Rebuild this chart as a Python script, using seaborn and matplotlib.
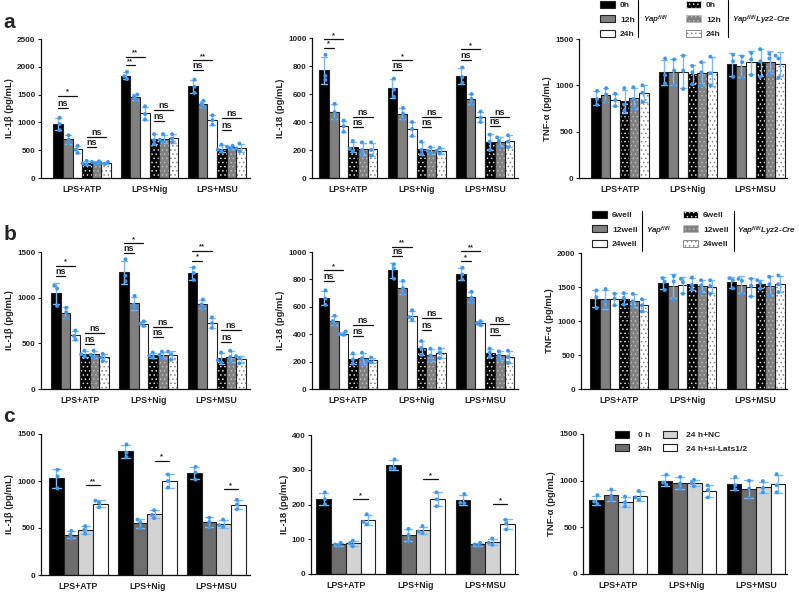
import numpy as np
import pandas as pd
import seaborn as sns
import matplotlib.pyplot as plt
from matplotlib.patches import Patch, Rectangle
from matplotlib.lines import Line2D

sns.set_theme(style='ticks')
plt.rcParams['font.family'] = ['Liberation Sans', 'DejaVu Sans']
plt.rcParams['font.weight'] = 'bold'
plt.rcParams['axes.labelweight'] = 'bold'
plt.rcParams['mathtext.fontset'] = 'custom'
plt.rcParams['mathtext.it'] = 'Liberation Sans:italic'
plt.rcParams['mathtext.rm'] = 'Liberation Sans'
plt.rcParams['hatch.linewidth'] = 0.6

# categories
stims = ['LPS+ATP', 'LPS+Nig', 'LPS+MSU']
time_groups = ['Yap 0h', 'Yap 12h', 'Yap 24h', 'Cre 0h', 'Cre 12h', 'Cre 24h']
well_groups = ['Yap 6well', 'Yap 12well', 'Yap 24well', 'Cre 6well', 'Cre 12well', 'Cre 24well']
time_labels = ['0h', '12h', '24h']
well_labels = ['6well', '12well', '24well']
si_groups = ['0 h', '24h', '24 h+NC', '24 h+si-Lats1/2']

# replicates, [stim][group] -> 3 values (pg/mL)
a_il1b = [
    [[1085, 970, 860], [770, 690, 620], [580, 510, 450], [310, 260, 240], [300, 290, 260], [290, 270, 250]],
    [[1910, 1830, 1780], [1500, 1460, 1400], [1290, 1150, 1050], [790, 680, 610], [790, 690, 650], [790, 710, 640]],
    [[1770, 1640, 1530], [1390, 1330, 1270], [1130, 1040, 960], [600, 510, 480], [580, 560, 520], [620, 530, 480]],
]
a_il18 = [
    [[880, 730, 700], [530, 470, 420], [410, 370, 330], [265, 210, 190], [255, 200, 170], [255, 200, 160]],
    [[710, 630, 580], [500, 460, 420], [400, 350, 300], [260, 200, 170], [220, 195, 175], [215, 195, 175]],
    [[790, 720, 680], [600, 565, 530], [475, 430, 400], [310, 260, 200], [290, 265, 225], [305, 260, 220]],
]
a_tnf = [
    [[940, 850, 790], [970, 900, 815], [910, 840, 775], [970, 790, 730], [980, 850, 750], [1000, 920, 820]],
    [[1290, 1110, 1020], [1280, 1160, 1000], [1320, 1160, 960], [1210, 1140, 1010], [1250, 1140, 1000], [1310, 1130, 1000]],
    [[1330, 1260, 1090], [1310, 1250, 1080], [1350, 1280, 1110], [1390, 1260, 1090], [1340, 1290, 1120], [1320, 1290, 1080]],
]
b_il1b = [
    [[1130, 1100, 910], [890, 840, 775], [640, 580, 540], [420, 380, 355], [420, 375, 345], [385, 345, 305]],
    [[1420, 1240, 1180], [1020, 920, 880], [740, 715, 690], [400, 365, 345], [410, 375, 340], [410, 380, 320]],
    [[1330, 1270, 1195], [980, 925, 885], [785, 720, 670], [400, 315, 290], [420, 350, 295], [360, 335, 280]],
]
b_il18 = [
    [[720, 660, 615], [535, 495, 470], [420, 400, 395], [260, 215, 185], [265, 225, 185], [230, 205, 195]],
    [[910, 880, 805], [790, 735, 695], [575, 525, 505], [350, 300, 250], [295, 245, 210], [295, 265, 225]],
    [[885, 835, 800], [710, 665, 635], [495, 480, 465], [295, 265, 235], [275, 245, 215], [280, 235, 190]],
]
b_tnf = [
    [[1450, 1350, 1190], [1470, 1290, 1200], [1400, 1330, 1230], [1410, 1340, 1240], [1400, 1290, 1210], [1320, 1230, 1140]],
    [[1630, 1580, 1455], [1660, 1580, 1320], [1620, 1570, 1400], [1640, 1530, 1465], [1600, 1525, 1420], [1600, 1515, 1400]],
    [[1630, 1600, 1480], [1620, 1590, 1395], [1620, 1520, 1360], [1600, 1560, 1475], [1650, 1540, 1370], [1670, 1540, 1425]],
]
c_il1b = [
    [[1120, 1050, 920], [470, 430, 390], [520, 480, 440], [790, 770, 720]],
    [[1390, 1300, 1255], [590, 560, 500], [690, 640, 605], [1070, 1000, 930]],
    [[1150, 1090, 1015], [610, 565, 505], [590, 530, 515], [800, 750, 700]],
]
c_il18 = [
    [[235, 215, 201], [90, 85, 80], [96, 88, 80], [172, 150, 143]],
    [[330, 305, 304], [130, 112, 94], [138, 122, 118], [235, 215, 195]],
    [[230, 205, 204], [90, 85, 80], [102, 90, 84], [156, 145, 128]],
]
c_tnf = [
    [[845, 775, 750], [905, 840, 790], [830, 770, 725], [890, 820, 795]],
    [[1065, 980, 955], [1040, 970, 915], [1010, 975, 940], [950, 900, 820]],
    [[1040, 950, 905], [1000, 915, 815], [995, 920, 875], [1070, 950, 875]],
]

# significance marks: (stim index, bar i, bar j, height, label)
a_il1b_sig = [(0, 0, 1, 1264, 'ns'), (0, 0, 2, 1481, '*'), (0, 3, 4, 560, 'ns'), (0, 3, 5, 740, 'ns'),
              (1, 0, 1, 2030, '**'), (1, 0, 2, 2185, '**'), (1, 3, 4, 1030, 'ns'), (1, 3, 5, 1222, 'ns'),
              (2, 0, 1, 1944, 'ns'), (2, 0, 2, 2125, '**'), (2, 3, 4, 860, 'ns'), (2, 3, 5, 1071, 'ns')]
a_il18_sig = [(0, 0, 1, 932, '*'), (0, 0, 2, 992, '*'), (0, 3, 4, 366, 'ns'), (0, 3, 5, 433, 'ns'),
              (1, 0, 1, 772, 'ns'), (1, 0, 2, 844, '*'), (1, 3, 4, 366, 'ns'), (1, 3, 5, 437, 'ns'),
              (2, 0, 1, 844, 'ns'), (2, 0, 2, 920, '*'), (2, 3, 4, 370, 'ns'), (2, 3, 5, 437, 'ns')]
b_il1b_sig = [(0, 0, 1, 1240, 'ns'), (0, 0, 2, 1350, '*'), (0, 3, 4, 490, 'ns'), (0, 3, 5, 615, 'ns'),
              (1, 0, 1, 1490, 'ns'), (1, 0, 2, 1600, '*'), (1, 3, 4, 570, 'ns'), (1, 3, 5, 680, 'ns'),
              (2, 0, 1, 1405, '*'), (2, 0, 2, 1516, '**'), (2, 3, 4, 515, 'ns'), (2, 3, 5, 644, 'ns')]
b_il18_sig = [(0, 0, 1, 790, 'ns'), (0, 0, 2, 866, '*'), (0, 3, 4, 385, 'ns'), (0, 3, 5, 469, 'ns'),
              (1, 0, 1, 969, 'ns'), (1, 0, 2, 1040, '**'), (1, 3, 4, 433, 'ns'), (1, 3, 5, 516, 'ns'),
              (2, 0, 1, 933, '*'), (2, 0, 2, 1004, '**'), (2, 3, 4, 393, 'ns'), (2, 3, 5, 474, 'ns')]
c_il1b_sig = [(0, 2, 3, 957, '**'), (1, 2, 3, 1217, '*'), (2, 2, 3, 917, '*')]
c_il18_sig = [(0, 2, 3, 215, '*'), (1, 2, 3, 274, '*'), (2, 2, 3, 202, '*')]

W, H = 799, 593
EDGE = '#222222'
ERR = '#7db9f2'
PTS = '#3f98f0'
ab_faces = ['black', '#808080', 'white', 'black', '#808080', 'white']
ab_dots = [None, None, None, '#d8d8d8', '#b8b8b8', '#8a8a8a']
c_faces = ['black', '#6e6e6e', '#d3d3d3', 'white']


def long_table(values, groups):
    rows = []
    for stim, per_group in zip(stims, values):
        for grp, reps in zip(groups, per_group):
            for v in reps:
                rows.append((stim, grp, v))
    return pd.DataFrame(rows, columns=['stim', 'grp', 'val'])


def px_axes(fig, left, top, right, bottom):
    return fig.add_axes([left / W, 1 - bottom / H, (right - left) / W, (bottom - top) / H])


def draw_panel(ax, values, groups, faces, dots, ymax, step, ylabel, xlim, sig=()):
    df = long_table(values, groups)
    sns.barplot(data=df, x='stim', y='val', hue='grp', order=stims, hue_order=groups,
                palette=faces, errorbar='sd', capsize=0.5, width=0.85, gap=0,
                edgecolor=EDGE, linewidth=0.8, err_kws={'color': ERR, 'linewidth': 1.0},
                legend=False, ax=ax)
    # dotted bars: hatch in a light colour, outline redrawn dark
    for cont, dot in zip(ax.containers, dots):
        if dot is None:
            continue
        for bar in cont:
            bar.set_hatch('....')
            bar.set_edgecolor(dot)
            bar.set_linewidth(0)
            ax.add_patch(Rectangle(bar.get_xy(), bar.get_width(), bar.get_height(),
                                   fill=False, edgecolor=EDGE, linewidth=0.8))
    sns.swarmplot(data=df, x='stim', y='val', hue='grp', order=stims, hue_order=groups,
                  palette=[PTS] * len(groups), dodge=True, size=2.8, legend=False,
                  ax=ax, zorder=4)
    for s, i, j, y, lab in sig:
        b0, b1 = ax.containers[i][s], ax.containers[j][s]
        x0 = b0.get_x() + b0.get_width() / 2
        x1 = b1.get_x() + b1.get_width() / 2
        ax.plot([x0, x1], [y, y], color='#111111', lw=0.9, clip_on=False, zorder=5)
        ax.text((x0 + x1) / 2, y, lab, ha='center', va='bottom',
                fontsize=6.5 if lab == 'ns' else 5.5, fontweight='bold')
    ax.set_xlim(*xlim)
    ax.set_ylim(0, ymax)
    ax.set_yticks(np.arange(0, ymax + 1, step))
    ax.set_xlabel('')
    ax.set_ylabel(ylabel, fontsize=6.8, fontweight='bold', labelpad=2)
    ax.tick_params(axis='y', labelsize=5.9, length=2.5, width=0.8, pad=1.5)
    ax.tick_params(axis='x', labelsize=6.3, length=0, pad=5)
    for side in ['left', 'bottom']:
        ax.spines[side].set_linewidth(0.9)
        ax.spines[side].set_color('#111111')
    sns.despine(ax=ax)


def key_column(fig, faces, dots, labels, x_px, top_px):
    handles = []
    for face, dot in zip(faces, dots):
        if dot is None:
            handles.append(Patch(facecolor=face, edgecolor=EDGE, linewidth=0.8))
        else:
            handles.append(Patch(facecolor=face, edgecolor=dot, hatch='....', linewidth=0.7))
    fig.legend(handles, labels, loc='upper left', bbox_to_anchor=(x_px / W, 1 - top_px / H),
               frameon=False, prop={'size': 6, 'weight': 'bold'}, handlelength=1.8,
               handleheight=0.85, handletextpad=0.6, labelspacing=0.75,
               borderpad=0, borderaxespad=0)


def vline(fig, x, y0, y1):
    fig.add_artist(Line2D([x / W, x / W], [1 - y0 / H, 1 - y1 / H],
                          transform=fig.transFigure, color='black', lw=0.8))


fig = plt.figure(figsize=(7.99, 5.93), dpi=100)

ax = px_axes(fig, 41, 39, 250, 178)
draw_panel(ax, a_il1b, time_groups, ab_faces, ab_dots, 2500, 500, 'IL-1β (pg/mL)', (-0.61, 2.49), a_il1b_sig)
ax = px_axes(fig, 312, 38, 518, 178)
draw_panel(ax, a_il18, time_groups, ab_faces, ab_dots, 1000, 200, 'IL-18 (pg/mL)', (-0.53, 2.48), a_il18_sig)
ax = px_axes(fig, 579, 39, 787, 178)
draw_panel(ax, a_tnf, time_groups, ab_faces, ab_dots, 1500, 500, 'TNF-α (pg/mL)', (-0.6, 2.46))

ax = px_axes(fig, 41, 252, 250, 389)
draw_panel(ax, b_il1b, well_groups, ab_faces, ab_dots, 1500, 500, 'IL-1β (pg/mL)', (-0.57, 2.49), b_il1b_sig)
ax = px_axes(fig, 312, 252, 518, 389)
draw_panel(ax, b_il18, well_groups, ab_faces, ab_dots, 1000, 200, 'IL-18 (pg/mL)', (-0.53, 2.48), b_il18_sig)
ax = px_axes(fig, 581, 253, 787, 389)
draw_panel(ax, b_tnf, well_groups, ab_faces, ab_dots, 2000, 500, 'TNF-α (pg/mL)', (-0.56, 2.46))

ax = px_axes(fig, 41, 434, 250, 575)
draw_panel(ax, c_il1b, si_groups, c_faces, [None] * 4, 1500, 500, 'IL-1β (pg/mL)', (-0.54, 2.49), c_il1b_sig)
ax = px_axes(fig, 311, 435, 518, 574)
draw_panel(ax, c_il18, si_groups, c_faces, [None] * 4, 400, 100, 'IL-18 (pg/mL)', (-0.5, 2.47), c_il18_sig)
ax = px_axes(fig, 583, 434, 787, 574)
draw_panel(ax, c_tnf, si_groups, c_faces, [None] * 4, 1500, 500, 'TNF-α (pg/mL)', (-0.51, 2.45))
c_handles = [Patch(facecolor=f, edgecolor=EDGE, linewidth=0.8) for f in c_faces]
ax.legend(c_handles, si_groups, ncol=2, loc='upper left', bbox_to_anchor=(0.157, 1.02),
          frameon=False, prop={'size': 6, 'weight': 'bold'}, handlelength=1.7, handleheight=0.85,
          handletextpad=1.0, columnspacing=1.3, labelspacing=0.6, borderpad=0, borderaxespad=0)

# keys for rows a and b
key_column(fig, ab_faces[:3], ab_dots[:3], time_labels, 600, 1)
key_column(fig, ab_faces[3:], ab_dots[3:], time_labels, 686, 1)
vline(fig, 638, 0, 37)
vline(fig, 728, 0, 37)
fig.text(643 / W, 1 - 20 / H, r'$Yap^{fl/fl}$', fontsize=5.8, va='center')
fig.text(732 / W, 1 - 20 / H, r'$Yap^{fl/fl}Lyz2\text{-}Cre$', fontsize=5.8, va='center')

key_column(fig, ab_faces[:3], ab_dots[:3], well_labels, 592, 211)
key_column(fig, ab_faces[3:], ab_dots[3:], well_labels, 683, 211)
vline(fig, 642, 211, 251)
vline(fig, 734, 211, 251)
fig.text(646 / W, 1 - 231 / H, r'$Yap^{fl/fl}$', fontsize=5.8, va='center')
fig.text(737 / W, 1 - 231 / H, r'$Yap^{fl/fl}Lyz2\text{-}Cre$', fontsize=5.8, va='center')

for letter, ypx in [('a', 23), ('b', 235), ('c', 417)]:
    fig.text(0.004, 1 - ypx / H, letter, fontsize=15, fontweight='bold', va='center')

fig.savefig('out.png', dpi=100)
